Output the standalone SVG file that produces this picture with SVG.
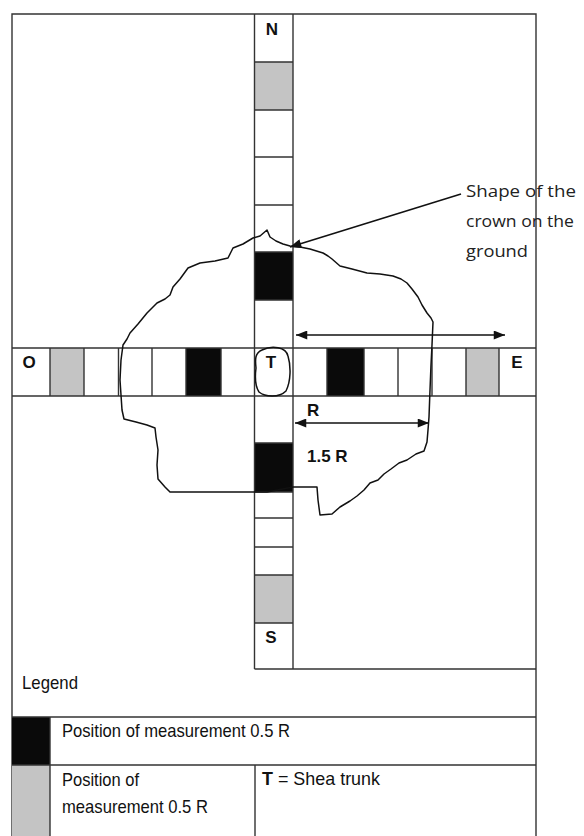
<svg xmlns="http://www.w3.org/2000/svg" width="584" height="836" viewBox="0 0 584 836">
<style>
.ln{stroke:#333;stroke-width:1.4;fill:none}
.blk{fill:#0a0a0a}
.gry{fill:#c4c4c4}
.lbl{font-family:"Liberation Sans",Arial,sans-serif;font-weight:bold;font-size:17px;fill:#111}
.cal{font-family:"Open Sans","Noto Sans",sans-serif;font-size:17px;fill:#222}
.leg{font-family:"Liberation Sans",Arial,sans-serif;font-size:19px;fill:#111}
.crown{stroke:#111;stroke-width:1.5;fill:none;stroke-linejoin:round}
.arr{stroke:#111;stroke-width:1.6;fill:none}
</style>
<defs>
<marker id="ah" viewBox="0 0 10 8" refX="10" refY="4" markerWidth="12" markerHeight="9" markerUnits="userSpaceOnUse" orient="auto-start-reverse">
<path d="M0,0 L10,4 L0,8 z" fill="#111"/>
</marker>
</defs>
<rect width="584" height="836" fill="#fff"/>

<g id="frame">
<path class="ln" d="M12,836 V14 H536 V836"/>
</g>

<g id="ns-strip">
<rect class="gry" x="254.5" y="62" width="38.5" height="48"/>
<rect class="blk" x="254.5" y="252" width="38.5" height="48"/>
<rect class="blk" x="254.5" y="443" width="38.5" height="49"/>
<rect class="gry" x="254.5" y="575" width="38.5" height="48"/>
<path class="ln" d="M254.5,14 V669 M293,14 V669 M254.5,62 H293 M254.5,110 H293 M254.5,157 H293 M254.5,205 H293 M254.5,252 H293 M254.5,300 H293 M254.5,443 H293 M254.5,492 H293 M254.5,518 H293 M254.5,547 H293 M254.5,575 H293 M254.5,623 H293"/>
<text class="lbl" x="272" y="35" text-anchor="middle">N</text>
<text class="lbl" x="271" y="643" text-anchor="middle">S</text>
</g>

<g id="oe-strip">
<rect class="gry" x="50" y="348" width="34" height="48"/>
<rect class="blk" x="186" y="348" width="35" height="48"/>
<rect class="blk" x="327" y="348" width="37" height="48"/>
<rect class="gry" x="466" y="348" width="33" height="48"/>
<path class="ln" d="M12,348 H536 M12,396 H536 M50,348 V396 M84,348 V396 M118.5,348 V396 M152,348 V396 M186,348 V396 M221,348 V396 M327,348 V396 M364,348 V396 M398,348 V396 M432,348 V396 M466,348 V396 M499,348 V396"/>
<text class="lbl" x="29" y="368" text-anchor="middle">O</text>
<text class="lbl" x="517" y="368" text-anchor="middle">E</text>
</g>

<g id="trunk">
<path class="crown" d="M262,350 C272,345 286,347 288,356 C291,366 291,381 286,391 C279,398 265,397 259,392 C255,386 255,376 256,368 C255,359 255,353 262,350 Z"/>
<text class="lbl" x="271" y="368" text-anchor="middle">T</text>
</g>

<g id="crown">
<path class="crown" d="M267,230 L270,237 L276,241 L283,244 L290,246 L300,247 L310,249 L323,253 L328,256 L332,259 L340,266 L352,269 L367,273 L380,274 L393,276 L401,279 L407,283 L412,289 L418,297 L422,305 L427,313 L431,318 L433,322 L432,345 L431,365 L430,390 L429,417 L428,430 L427,442 L424,451 L416,454 L407,460 L399,463 L391,469 L384,474 L378,480 L370,483 L364,490 L357,496 L350,501 L340,507 L332,514 L320,515 L318,500 L317,487 L293,487 L267,492 L170,492 L165,487 L158,479 L157,465 L158,450 L156,437 L155,428 L147,425 L136,422 L124,419 L122,410 L121,395 L120,380 L121,360 L123,345 L127,339 L130,333 L138,324 L147,313 L152,308 L157,303 L165,299 L170,295 L173,287 L180,279 L188,268 L200,263 L215,261 L228,258 L231,252 L233,248 L243,244 L253,238 L260,236 Z"/>
</g>

<g id="connectors">
<line class="arr" x1="296" y1="335" x2="505" y2="335" marker-start="url(#ah)" marker-end="url(#ah)"/>
<line class="arr" x1="295" y1="423" x2="429" y2="423" marker-start="url(#ah)" marker-end="url(#ah)"/>
<line class="arr" x1="461" y1="194" x2="290" y2="247" marker-end="url(#ah)"/>
</g>

<g id="dim-labels">
<text class="lbl" x="307" y="416">R</text>
<text class="lbl" x="307" y="462">1.5 R</text>
</g>

<g id="crown-label">
<text class="cal" x="466" y="197" textLength="110" lengthAdjust="spacingAndGlyphs">Shape of the</text>
<text class="cal" x="466" y="227" textLength="108" lengthAdjust="spacingAndGlyphs">crown on the</text>
<text class="cal" x="466" y="257" textLength="62" lengthAdjust="spacingAndGlyphs">ground</text>
</g>

<g id="legend">
<rect class="blk" x="12" y="717" width="38" height="48"/>
<rect class="gry" x="12" y="765" width="38" height="71"/>
<path class="ln" d="M254.5,669 H536 M12,717 H536 M12,765 H536 M50,717 V836 M255,765 V836"/>
<text class="leg" x="22" y="689" textLength="56" lengthAdjust="spacingAndGlyphs">Legend</text>
<text class="leg" x="62" y="737" textLength="228" lengthAdjust="spacingAndGlyphs">Position of measurement 0.5 R</text>
<text class="leg" x="62" y="786" textLength="77" lengthAdjust="spacingAndGlyphs">Position of</text>
<text class="leg" x="62" y="813" textLength="146" lengthAdjust="spacingAndGlyphs">measurement 0.5 R</text>
<text class="leg" x="262" y="785" textLength="118" lengthAdjust="spacingAndGlyphs"><tspan font-weight="bold">T</tspan> = Shea trunk</text>
</g>
</svg>
